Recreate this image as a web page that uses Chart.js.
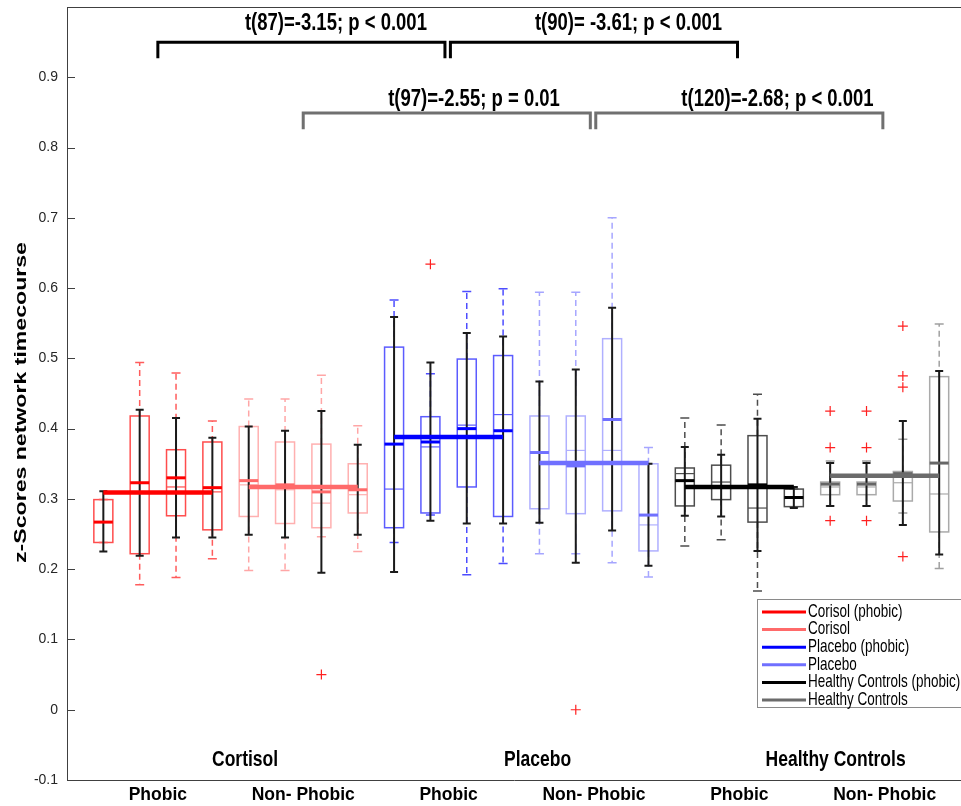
<!DOCTYPE html>
<html>
<head>
<meta charset="utf-8">
<script src="https://cdn.jsdelivr.net/npm/chart.js@4.4.1/dist/chart.umd.min.js"></script>
<style>
  html, body { margin: 0; padding: 0; background: #fff; }
</style>
</head>
<body>
<canvas id="chart" width="961" height="806"></canvas>
<script>
/* ── Data ── */
// box positions along the x axis (4 boxes per group, 6 groups)
var positions = [1, 2, 3, 4, 5, 6, 7, 8, 9, 10, 11, 12, 13, 14, 15, 16, 17, 18, 19, 20, 21, 22, 23, 24];
var boxLow    = [0.238, 0.222, 0.276, 0.256, 0.275, 0.265, 0.259, 0.280, 0.259, 0.280, 0.317, 0.275, 0.286, 0.279, 0.283, 0.226, 0.290, 0.299, 0.267, 0.289, 0.306, 0.306, 0.297, 0.253];
var boxHigh   = [0.299, 0.418, 0.370, 0.381, 0.403, 0.381, 0.378, 0.350, 0.516, 0.417, 0.499, 0.504, 0.418, 0.418, 0.528, 0.350, 0.344, 0.348, 0.390, 0.314, 0.324, 0.324, 0.339, 0.474];
var medThin   = [0.267, 0.310, 0.317, 0.310, 0.320, 0.313, 0.294, 0.306, 0.314, 0.374, 0.405, 0.420, 0.366, 0.369, 0.369, 0.263, 0.336, 0.324, 0.287, 0.302, 0.317, 0.317, 0.323, 0.307];
var medThick  = [0.267, 0.323, 0.330, 0.316, 0.326, 0.320, 0.310, 0.313, 0.378, 0.381, 0.400, 0.397, 0.366, 0.347, 0.413, 0.277, 0.326, 0.317, 0.320, 0.302, 0.321, 0.321, 0.336, 0.351];
var whiskLow  = [0.238, 0.178, 0.188, 0.215, 0.198, 0.198, 0.246, 0.225, 0.238, 0.277, 0.192, 0.208, 0.222, 0.222, 0.209, 0.189, 0.233, 0.242, 0.169, 0.289, 0.290, 0.290, 0.280, 0.201];
var whiskHigh = [0.299, 0.494, 0.479, 0.411, 0.442, 0.442, 0.476, 0.404, 0.583, 0.478, 0.595, 0.599, 0.594, 0.594, 0.700, 0.373, 0.415, 0.405, 0.449, 0.314, 0.354, 0.354, 0.385, 0.549];
var blackLow  = [0.225, 0.219, 0.245, 0.245, 0.249, 0.245, 0.195, 0.249, 0.196, 0.269, 0.265, 0.265, 0.266, 0.209, 0.255, 0.205, 0.276, 0.275, 0.226, 0.287, 0.290, 0.290, 0.263, 0.221];
var blackHigh = [0.311, 0.427, 0.415, 0.387, 0.403, 0.397, 0.425, 0.377, 0.559, 0.494, 0.536, 0.531, 0.467, 0.484, 0.572, 0.350, 0.374, 0.363, 0.414, 0.317, 0.351, 0.351, 0.411, 0.482];

// outliers (red crosses)
var outlierX = [7, 10, 14, 21, 21, 21, 22, 22, 22, 23, 23, 23, 23];
var outlierY = [0.050, 0.634, 0.000, 0.425, 0.373, 0.269, 0.425, 0.373, 0.269, 0.546, 0.475, 0.459, 0.218];

// group mean lines
var groupNames = ['Corisol (phobic)', 'Corisol', 'Placebo (phobic)', 'Placebo', 'Healthy Controls (phobic)', 'Healthy Controls'];
var groupStart = [1, 5, 9, 13, 17, 21];
var groupEnd   = [4, 8, 12, 16, 20, 24];
var groupMean  = [0.309, 0.317, 0.388, 0.351, 0.317, 0.333];

// axis ticks
var xTickValues = [2.5, 6.5, 10.5, 14.5, 18.5, 22.5];
var xTickLabels = ['Phobic', 'Non- Phobic', 'Phobic', 'Non- Phobic', 'Phobic', 'Non- Phobic'];
var yTickValues = [-0.1, 0, 0.1, 0.2, 0.3, 0.4, 0.5, 0.6, 0.7, 0.8, 0.9];

// condition labels under the boxes
var condLabels = ['Cortisol', 'Placebo', 'Healthy Controls'];
var condX      = [4.9, 12.95, 21.15];

// comparison brackets
var bracketFrom  = [2.5, 10.55, 6.5, 14.55];
var bracketTo    = [10.4, 18.45, 14.4, 22.45];
var bracketTop   = [0.950, 0.950, 0.849, 0.849];
var bracketFoot  = [0.927, 0.927, 0.826, 0.826];
var bracketText  = ['t(87)=-3.15; p < 0.001', 't(90)= -3.61; p < 0.001', 't(97)=-2.55; p = 0.01', 't(120)=-2.68; p < 0.001'];
var bracketTextX = [7.4, 15.45, 11.2, 19.55];
var bracketTextY = [0.977, 0.977, 0.868, 0.868];

/* ── Styles ── */
var FONT = "'Liberation Sans', Arial, Helvetica, sans-serif";
var STRETCH = 1.3;   // the original figure is stretched vertically
var boxColor  = ['#ff4d4d', '#ffb0b0', '#5c5cff', '#b0b0ff', '#4d4d4d', '#aaaaaa'];
var dashColor = ['#ff5c5c', '#ffa6a6', '#4d4dff', '#a6a6ff', '#4d4d4d', '#a0a0a0'];
var medColor  = ['#ff0000', '#ff6a6a', '#0000ff', '#7070ff', '#000000', '#666666'];
var meanColor = ['#ff0000', '#ff6a6a', '#0000ff', '#7070ff', '#000000', '#6b6b6b'];
var bracketColor = ['#000000', '#000000', '#707070', '#707070'];

Chart.defaults.font.family = FONT;

function stretchedText(ctx, str, cx, cy, font, color) {
    ctx.save();
    ctx.translate(cx, cy);
    ctx.scale(1, STRETCH);
    ctx.font = font;
    ctx.fillStyle = color;
    ctx.textAlign = 'center';
    ctx.textBaseline = 'middle';
    ctx.fillText(str, 0, 0);
    ctx.restore();
}

/* ── Box plot layer, drawn under the mean lines ── */
var boxPlugin = {
    id: 'boxes',
    beforeDatasetsDraw: function (chart) {
        var ctx = chart.ctx, x = chart.scales.x, y = chart.scales.y;
        var half = 9.5, cap = 4.5;
        ctx.save();
        for (var i = 0; i < positions.length; i++) {
            var g = Math.floor(i / 4);
            var px = x.getPixelForValue(positions[i]);
            var yLo = y.getPixelForValue(boxLow[i]), yHi = y.getPixelForValue(boxHigh[i]);

            // box outline
            ctx.setLineDash([]);
            ctx.lineWidth = 1.5;
            ctx.strokeStyle = boxColor[g];
            ctx.strokeRect(px - half, yHi, half * 2, yLo - yHi);

            // dashed whiskers + caps
            ctx.strokeStyle = dashColor[g];
            ctx.lineWidth = 1.5;
            var wl = y.getPixelForValue(whiskLow[i]), wh = y.getPixelForValue(whiskHigh[i]);
            ctx.setLineDash([6, 4]);
            ctx.beginPath();
            ctx.moveTo(px, yHi); ctx.lineTo(px, wh);
            ctx.moveTo(px, yLo); ctx.lineTo(px, wl);
            ctx.stroke();
            ctx.setLineDash([]);
            ctx.beginPath();
            ctx.moveTo(px - cap, wh); ctx.lineTo(px + cap, wh);
            ctx.moveTo(px - cap, wl); ctx.lineTo(px + cap, wl);
            ctx.stroke();

            // thin median
            var mt = y.getPixelForValue(medThin[i]);
            ctx.lineWidth = 1.2;
            ctx.strokeStyle = boxColor[g];
            ctx.beginPath();
            ctx.moveTo(px - half, mt); ctx.lineTo(px + half, mt);
            ctx.stroke();

            // black whisker
            var bl = y.getPixelForValue(blackLow[i]), bh = y.getPixelForValue(blackHigh[i]);
            ctx.strokeStyle = '#1a1a1a';
            ctx.lineWidth = 2;
            ctx.beginPath();
            ctx.moveTo(px, bl); ctx.lineTo(px, bh);
            ctx.moveTo(px - 4, bl); ctx.lineTo(px + 4, bl);
            ctx.moveTo(px - 4, bh); ctx.lineTo(px + 4, bh);
            ctx.stroke();

            // thick median
            var mk = y.getPixelForValue(medThick[i]);
            ctx.strokeStyle = medColor[g];
            ctx.lineWidth = 3;
            ctx.beginPath();
            ctx.moveTo(px - half, mk); ctx.lineTo(px + half, mk);
            ctx.stroke();
        }
        ctx.restore();
    }
};

/* ── Frame, brackets, labels and legend ── */
var decorPlugin = {
    id: 'decor',
    afterDraw: function (chart) {
        var ctx = chart.ctx, x = chart.scales.x, y = chart.scales.y, area = chart.chartArea;
        ctx.save();

        // top frame line + inward y ticks
        ctx.strokeStyle = '#404040';
        ctx.lineWidth = 1;
        ctx.beginPath();
        ctx.moveTo(area.left, area.top + 0.5); ctx.lineTo(area.right, area.top + 0.5);
        yTickValues.forEach(function (v) {
            var py = Math.round(y.getPixelForValue(v)) + 0.5;
            ctx.moveTo(area.left, py); ctx.lineTo(area.left + 8, py);
        });
        ctx.stroke();

        // brackets
        for (var b = 0; b < bracketFrom.length; b++) {
            var x0 = x.getPixelForValue(bracketFrom[b]), x1 = x.getPixelForValue(bracketTo[b]);
            var yt = y.getPixelForValue(bracketTop[b]), yf = y.getPixelForValue(bracketFoot[b]);
            ctx.strokeStyle = bracketColor[b];
            ctx.lineWidth = 3;
            ctx.lineJoin = 'miter';
            ctx.beginPath();
            ctx.moveTo(x0, yf); ctx.lineTo(x0, yt); ctx.lineTo(x1, yt); ctx.lineTo(x1, yf);
            ctx.stroke();
            stretchedText(ctx, bracketText[b], x.getPixelForValue(bracketTextX[b]),
                y.getPixelForValue(bracketTextY[b]), 'bold 18.5px ' + FONT, '#000');
        }

        // condition labels
        for (var c = 0; c < condLabels.length; c++) {
            stretchedText(ctx, condLabels[c], x.getPixelForValue(condX[c]),
                y.getPixelForValue(-0.071), 'bold 17.5px ' + FONT, '#000');
        }

        // y axis title
        ctx.save();
        ctx.translate(21, (area.top + area.bottom) / 2 + 9);
        ctx.rotate(-Math.PI / 2);
        ctx.scale(1.4, 1);
        ctx.font = 'bold 16.5px ' + FONT;
        ctx.fillStyle = '#000';
        ctx.textAlign = 'center';
        ctx.textBaseline = 'middle';
        ctx.fillText('z-Scores network timecourse', 0, 0);
        ctx.restore();

        // legend box
        var lx = 757, ly = 599, lw = 210, lh = 108;
        ctx.fillStyle = '#fff';
        ctx.fillRect(lx, ly, lw, lh);
        ctx.strokeStyle = '#8a8a8a';
        ctx.lineWidth = 1;
        ctx.strokeRect(lx + 0.5, ly + 0.5, lw, lh);
        for (var k = 0; k < groupNames.length; k++) {
            var ry = ly + 13 + k * 17.6;
            ctx.strokeStyle = meanColor[k];
            ctx.lineWidth = 3;
            ctx.beginPath();
            ctx.moveTo(lx + 5, ry); ctx.lineTo(lx + 49, ry);
            ctx.stroke();
            ctx.save();
            ctx.translate(lx + 51, ry);
            ctx.scale(1, STRETCH);
            ctx.font = '13.5px ' + FONT;
            ctx.fillStyle = '#000';
            ctx.textAlign = 'left';
            ctx.textBaseline = 'middle';
            ctx.fillText(groupNames[k], 0, 0);
            ctx.restore();
        }
        ctx.restore();
    }
};

/* ── Datasets: group means as lines, outliers as crosses ── */
var datasets = groupNames.map(function (name, g) {
    return {
        label: name,
        data: [{ x: groupStart[g], y: groupMean[g] }, { x: groupEnd[g], y: groupMean[g] }],
        borderColor: meanColor[g],
        borderWidth: 4.5,
        pointRadius: 0,
        fill: false
    };
});
datasets.push({
    label: 'outliers',
    data: outlierX.map(function (v, i) { return { x: v, y: outlierY[i] }; }),
    showLine: false,
    pointStyle: 'cross',
    pointRadius: 5,
    pointBorderColor: '#ff2020',
    pointBorderWidth: 1.2
});

new Chart(document.getElementById('chart'), {
    type: 'line',
    data: { datasets: datasets },
    options: {
        responsive: false,
        animation: false,
        layout: { autoPadding: false, padding: { top: 7, right: 0, left: 0, bottom: 0 } },
        plugins: { legend: { display: false }, tooltip: { enabled: false } },
        scales: {
            x: {
                type: 'linear',
                min: 0,
                max: 24.6,
                grid: { display: false, drawTicks: false },
                border: { display: true, color: '#404040', width: 1 },
                afterBuildTicks: function (axis) {
                    axis.ticks = xTickValues.map(function (v) { return { value: v }; });
                },
                afterFit: function (axis) {
                    axis.height = 26;
                    axis.paddingLeft = 0;
                    axis.paddingRight = 0;
                },
                ticks: {
                    autoSkip: false,
                    maxRotation: 0,
                    padding: 5,
                    color: '#000',
                    font: { size: 17.5, weight: 'bold' },
                    callback: function (v, i) { return xTickLabels[i]; }
                }
            },
            y: {
                min: -0.1,
                max: 1.0,
                grid: { display: false, drawTicks: false },
                border: { display: true, color: '#404040', width: 1 },
                afterBuildTicks: function (axis) {
                    axis.ticks = yTickValues.map(function (v) { return { value: v }; });
                },
                afterFit: function (axis) {
                    axis.width = 67;
                    axis.paddingTop = 0;
                    axis.paddingBottom = 0;
                },
                ticks: {
                    padding: 9,
                    color: '#262626',
                    font: { size: 14 },
                    callback: function (v) { return String(Number(v.toFixed(1))); }
                }
            }
        }
    },
    plugins: [boxPlugin, decorPlugin]
});
</script>
</body>
</html>
